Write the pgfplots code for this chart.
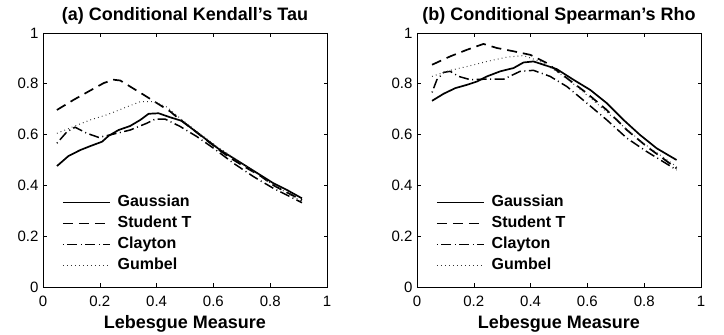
\documentclass[border=0pt]{standalone}
\usepackage{pgfplots}
\pgfplotsset{compat=1.18}
\usepackage{fontspec}
\setmainfont{Liberation Sans}
\tikzset{ttl/.style={font=\fontsize{18}{20}\selectfont\bfseries, anchor=base, inner sep=0pt, yshift=12pt}}
\begin{document}
\begin{tikzpicture}
\path[use as bounding box] (0pt,0pt) rectangle (724pt,335pt);
\pgfplotsset{
  every axis/.style={
    scale only axis, width=284pt, height=254pt,
    xmin=0, xmax=1, ymin=0, ymax=1,
    xtick={0,0.2,...,1}, ytick={0,0.2,...,1},
    xticklabels={0,0.2,0.4,0.6,0.8,1},
    yticklabels={0,0.2,0.4,0.6,0.8,1},
    tick align=inside, major tick length=3.5pt,
    axis line style={line width=0.8pt}, tick style={line width=0.6pt, black},
    /pgf/number format/assume math mode=true,
    ticklabel style={font=\fontsize{15}{17}\selectfont},
    xticklabel style={anchor=base, yshift=-19pt},
    yticklabel style={anchor=east, xshift=-1pt},
    xlabel={\textbf{Lebesgue Measure}},
    xlabel style={font=\fontsize{18}{20}\selectfont, at={(axis description cs:0.5,0)}, anchor=base, yshift=-41pt},
    legend style={draw=none, fill=none, inner sep=0pt, at={(axis description cs:0.066,0.365)}, anchor=north west,
      font=\fontsize{16}{18}\selectfont\bfseries, row sep=5pt,
      nodes={inner sep=0pt, text height=12pt, text depth=4pt},
      /tikz/every odd column/.append style={column sep=7pt}},
    legend cell align=left,
    legend image code/.code={\draw[##1] (0pt,0pt) -- (47pt,0pt);},
  },
  gau/.style={black, line width=1.7pt},
  stu/.style={black, line width=1.7pt, dash pattern=on 10pt off 6pt},
  cla/.style={black, line width=1.5pt, dash pattern=on 1pt off 3.5pt on 10pt off 3.5pt},
  gum/.style={black!80, line width=1pt, dash pattern=on 0.8pt off 3.2pt},
}
\begin{axis}[at={(43pt,48pt)}, anchor=south west, clip=false]
\node[ttl] at (rel axis cs:0.5,1) {(a) Conditional Kendall's Tau};
\addplot[gau] coordinates {(0.049,0.476) (0.09,0.516) (0.131,0.539) (0.167,0.555) (0.208,0.572) (0.231,0.595) (0.266,0.618) (0.307,0.634) (0.343,0.658) (0.372,0.682) (0.407,0.684) (0.448,0.668) (0.489,0.654) (0.531,0.618) (0.577,0.579) (0.624,0.539) (0.671,0.507) (0.718,0.474) (0.765,0.441) (0.812,0.408) (0.859,0.382) (0.912,0.349)};
\addlegendentry{Gaussian}
\addplot[stu] coordinates {(0.049,0.697) (0.108,0.737) (0.167,0.774) (0.214,0.803) (0.249,0.816) (0.272,0.813) (0.307,0.789) (0.354,0.757) (0.401,0.724) (0.448,0.691) (0.483,0.658) (0.531,0.618) (0.577,0.577) (0.624,0.536) (0.671,0.500) (0.718,0.468) (0.765,0.438) (0.812,0.400) (0.859,0.372) (0.912,0.342)};
\addlegendentry{Student T}
\addplot[cla] coordinates {(0.049,0.566) (0.085,0.612) (0.113,0.629) (0.155,0.605) (0.196,0.589) (0.237,0.599) (0.307,0.618) (0.366,0.645) (0.395,0.661) (0.430,0.661) (0.483,0.632) (0.542,0.592) (0.601,0.546) (0.671,0.487) (0.742,0.434) (0.812,0.388) (0.912,0.332)};
\addlegendentry{Clayton}
\addplot[gum] coordinates {(0.049,0.605) (0.108,0.632) (0.167,0.658) (0.225,0.678) (0.284,0.704) (0.343,0.730) (0.390,0.730) (0.437,0.708) (0.483,0.664) (0.542,0.612) (0.613,0.553) (0.683,0.500) (0.742,0.454) (0.812,0.401) (0.912,0.336)};
\addlegendentry{Gumbel}
\end{axis}
\begin{axis}[at={(417pt,48pt)}, anchor=south west, clip=false]
\node[ttl] at (rel axis cs:0.5,1) {(b) Conditional Spearman's Rho};
\addplot[gau] coordinates {(0.053,0.733) (0.094,0.761) (0.135,0.783) (0.176,0.796) (0.211,0.809) (0.246,0.829) (0.293,0.849) (0.340,0.862) (0.375,0.884) (0.410,0.888) (0.446,0.875) (0.492,0.858) (0.551,0.816) (0.610,0.776) (0.668,0.724) (0.727,0.658) (0.785,0.599) (0.844,0.546) (0.914,0.500)};
\addlegendentry{Gaussian}
\addplot[stu] coordinates {(0.053,0.875) (0.117,0.908) (0.176,0.934) (0.234,0.957) (0.281,0.941) (0.340,0.928) (0.399,0.914) (0.457,0.882) (0.528,0.822) (0.598,0.763) (0.668,0.697) (0.739,0.618) (0.809,0.553) (0.914,0.467)};
\addlegendentry{Student T}
\addplot[cla] coordinates {(0.053,0.766) (0.070,0.816) (0.094,0.845) (0.117,0.849) (0.147,0.829) (0.188,0.816) (0.234,0.818) (0.305,0.818) (0.363,0.849) (0.410,0.853) (0.469,0.829) (0.528,0.789) (0.598,0.724) (0.668,0.658) (0.739,0.586) (0.809,0.533) (0.914,0.461)};
\addlegendentry{Clayton}
\addplot[gum] coordinates {(0.053,0.829) (0.117,0.853) (0.176,0.868) (0.246,0.888) (0.317,0.905) (0.375,0.911) (0.434,0.888) (0.492,0.849) (0.563,0.789) (0.645,0.711) (0.727,0.632) (0.797,0.566) (0.914,0.474)};
\addlegendentry{Gumbel}
\end{axis}
\end{tikzpicture}
\end{document}
